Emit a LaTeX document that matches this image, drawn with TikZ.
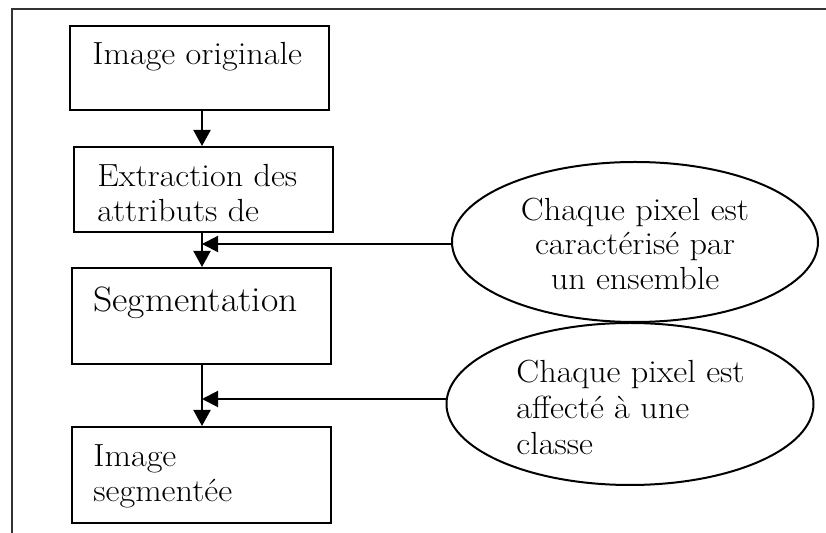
\documentclass[tikz,border=0pt]{standalone}
\usepackage{fontspec}
\setmainfont{Latin Modern Roman}[FakeStretch=1.07]
\usetikzlibrary{shapes.geometric,arrows.meta}
\begin{document}
\begin{tikzpicture}[x=0.5pt,y=-0.5pt,
  frameline/.style={line width=1pt,draw=black!80},
  stepbox/.style={draw,rectangle,line width=1pt,minimum width=129.5pt,inner sep=0pt},
  note/.style={draw,ellipse,line width=1pt,minimum width=183pt,minimum height=80pt,inner sep=0pt},
  txt/.style={inner sep=0pt,font=\fontsize{16}{18}\selectfont},
  bigtxt/.style={inner sep=0pt,font=\fontsize{17.6}{20}\selectfont},
  arr/.style={line width=1pt,-{Triangle[length=8pt,width=8.5pt]}},
  link/.style={line width=1pt,-{Triangle[length=8pt,width=8pt]}}
]
\useasboundingbox (0,0) rectangle (826,533);

% open frame: top and left edges only
\coordinate (fbl) at (12,533);
\coordinate (ftl) at (12,9);
\coordinate (ftr) at (826,9);
\draw[frameline] (fbl) -- (ftl) -- (ftr);

% processing steps
\node[stepbox,minimum height=42pt]   (b1) at (199.5,68)  {};
\node[stepbox,minimum height=42.5pt] (b2) at (203.5,189.5) {};
\node[stepbox,minimum height=48pt]   (b3) at (201.5,316) {};
\node[stepbox,minimum height=48pt]   (b4) at (201.5,475) {};

\node[txt,anchor=base west] (b1a) at (92,65)  {Image originale};
\node[txt,anchor=base west] (b2a) at (97,187) {Extraction des};
\node[txt,anchor=base west] (b2b) at (97,222) {attributs de};
\node[bigtxt,anchor=base west] (b3a) at (93,312) {Segmentation};
\node[txt,anchor=base west] (b4a) at (93,467) {Image};
\node[txt,anchor=base west] (b4b) at (93,502) {segment\'ee};

% annotations
\node[note] (e1) at (635,242) {};
\node[note,minimum width=183.5pt,minimum height=81pt] (e2) at (630,404) {};

\node[txt,anchor=base] (e1a) at (635,221) {Chaque pixel est};
\node[txt,anchor=base] (e1b) at (635,255) {caract\'eris\'e par};
\node[txt,anchor=base] (e1c) at (635,290) {un ensemble};

\node[txt,anchor=base west] (e2a) at (516,383) {Chaque pixel est};
\node[txt,anchor=base west] (e2b) at (516,419) {affect\'e \`a une};
\node[txt,anchor=base west] (e2c) at (516,455) {classe};

% flow
\coordinate (axis) at (202,0);
\coordinate (j1) at (202,244);
\coordinate (j2) at (202,399);
\draw[arr] (b1.south -| axis) -- (b2.north -| axis);
\draw[arr] (b2.south -| axis) -- (b3.north -| axis);
\draw[arr] (b3.south -| axis) -- (b4.north -| axis);
\draw[link] (e1.west |- j1) -- (j1);
\draw[link] (e2.west |- j2) -- (j2);
\end{tikzpicture}
\end{document}
